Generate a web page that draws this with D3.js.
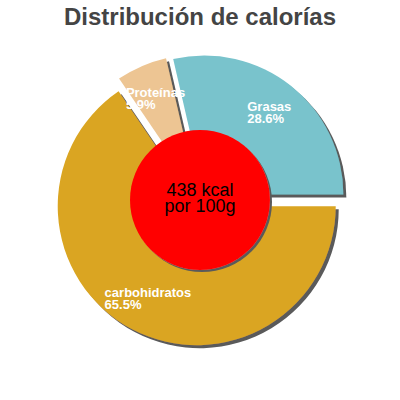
<!DOCTYPE html>
<html><head><meta charset="utf-8">
<script src="https://cdn.jsdelivr.net/npm/d3@7"></script>
<style>body{margin:0;background:#fff}svg{display:block}</style>
</head><body>
<script>
const categories = ["carbohidratos", "Proteínas", "Grasas"];
const values = [65.5, 5.9, 28.6];
const percentLabels = ["65.5%", "5.9%", "28.6%"];
const colors = ["#daa520", "#edc593", "#79c3cc"];
const titleText = "Distribución de calorías";
const centerLines = ["438 kcal", "por 100g"];

const W = 400, H = 400, cx = 200, cy = 200, R = 139, offset = 7, holeR = 70;
const svg = d3.select("body").append("svg").attr("width", W).attr("height", H);
const defs = svg.append("defs");
function shadow(id, d) {
  const f = defs.append("filter").attr("id", id).attr("x", "-20%").attr("y", "-20%").attr("width", "140%").attr("height", "140%");
  f.append("feDropShadow").attr("dx", d).attr("dy", d).attr("stdDeviation", 0.4)
    .attr("flood-color", "#5a5a5a").attr("flood-opacity", 1);
}
shadow("sh", 3);
shadow("sh2", 2);

svg.append("text").attr("x", W / 2).attr("y", 25).attr("text-anchor", "middle")
  .attr("font-family", "Liberation Sans, Arial, sans-serif").attr("font-weight", "bold")
  .attr("font-size", 24).attr("fill", "#444").text(titleText);

const pie = d3.pie().sort(null).startAngle(Math.PI / 2).endAngle(Math.PI / 2 + 2 * Math.PI);
const arcs = pie(values);
const arc = d3.arc().innerRadius(0).outerRadius(R);
const g = svg.append("g").attr("transform", `translate(${cx},${cy})`);
const shift = d => {
  const a = (d.startAngle + d.endAngle) / 2;
  return [offset * Math.sin(a), -offset * Math.cos(a)];
};

g.selectAll("path.slice").data(arcs).enter().append("path")
  .attr("transform", d => `translate(${shift(d)})`)
  .attr("d", arc).attr("fill", (d, i) => colors[i]).attr("filter", "url(#sh)");

g.append("circle").attr("r", holeR).attr("fill", "#ff0000").attr("filter", "url(#sh2)");

const ct = g.append("text").attr("text-anchor", "middle")
  .attr("font-family", "Liberation Sans, Arial, sans-serif").attr("font-size", 18).attr("fill", "#000");
ct.append("tspan").attr("x", 0).attr("y", -4).text(centerLines[0]);
ct.append("tspan").attr("x", 0).attr("y", 12).text(centerLines[1]);

const labelLayer = g.append("g");
arcs.forEach((d, i) => {
  const a = (d.startAngle + d.endAngle) / 2;
  const [sx, sy] = shift(d);
  const lr = 0.75 * R;
  const px = sx + lr * Math.sin(a), py = sy - lr * Math.cos(a);
  const t = labelLayer.append("text")
    .attr("font-family", "Liberation Sans, Arial, sans-serif").attr("font-weight", "bold")
    .attr("font-size", 13).attr("fill", "#fff");
  const t1 = t.append("tspan").text(categories[i]);
  const t2 = t.append("tspan").text(percentLabels[i]);
  const w = Math.max(t1.node().getComputedTextLength(), t2.node().getComputedTextLength());
  const x0 = px - w / 2;
  t1.attr("x", x0).attr("y", py - 1.5);
  t2.attr("x", x0).attr("y", py + 10.5);
});
</script>
</body></html>
